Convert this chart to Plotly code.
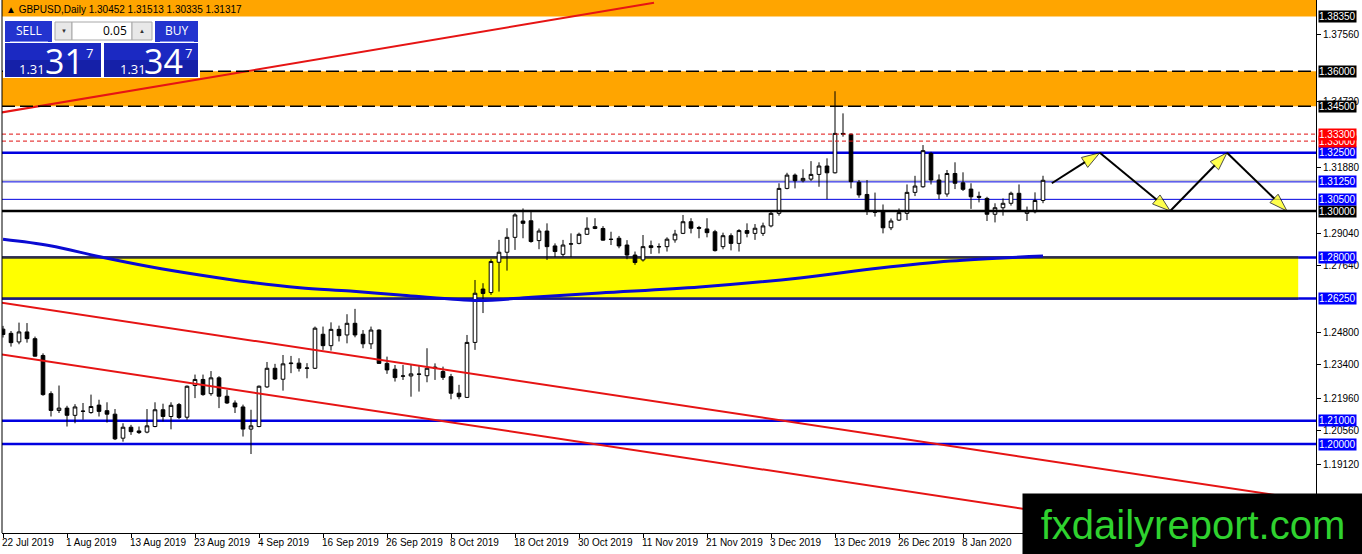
import plotly.graph_objects as go

# GBPUSD daily bars, bar 0 = 22 Jul 2019, last bar = 22 Jan 2020
bar_open = [1.2493, 1.2475, 1.2438, 1.2481, 1.2452, 1.2380, 1.2216, 1.2144, 1.2154, 1.2123,
            1.2140, 1.2135, 1.2167, 1.2143, 1.2128, 1.2025, 1.2072, 1.2056, 1.2051, 1.2075,
            1.2147, 1.2118, 1.2169, 1.2115, 1.2251, 1.2277, 1.2216, 1.2284, 1.2205, 1.2176,
            1.2159, 1.2064, 1.2075, 1.2245, 1.2325, 1.2278, 1.2345, 1.2347, 1.2325, 1.2325,
            1.2471, 1.2422, 1.2492, 1.2468, 1.2518, 1.2471, 1.2430, 1.2489, 1.2346, 1.2321,
            1.2291, 1.2292, 1.2299, 1.2293, 1.2330, 1.2311, 1.2289, 1.2218, 1.2200, 1.2436,
            1.2665, 1.2650, 1.2780, 1.2823, 1.2887, 1.2957, 1.2958, 1.2873, 1.2914, 1.2850,
            1.2814, 1.2858, 1.2861, 1.2900, 1.2925, 1.2925, 1.2879, 1.2883, 1.2854, 1.2811,
            1.2790, 1.2851, 1.2846, 1.2847, 1.2876, 1.2904, 1.2954, 1.2929, 1.2923, 1.2911,
            1.2847, 1.2894, 1.2861, 1.2916, 1.2904, 1.2904, 1.2936, 1.2990, 1.3097, 1.3154,
            1.3130, 1.3137, 1.3157, 1.3193, 1.3164, 1.3333, 1.3329, 1.3123, 1.3071, 1.2998,
            1.3000, 1.2928, 1.2961, 1.2990, 1.3080, 1.3104, 1.3247, 1.3133, 1.3073, 1.3161,
            1.3121, 1.3094, 1.3063, 1.3054, 1.2986, 1.3014, 1.3033, 1.3076, 1.2990, 1.2997,
            1.30452]
bar_high = [1.2507, 1.2485, 1.2521, 1.2519, 1.2461, 1.2389, 1.2226, 1.2251, 1.2164, 1.2171,
            1.2176, 1.2212, 1.2190, 1.2179, 1.2150, 1.2089, 1.2082, 1.2075, 1.2150, 1.2179,
            1.2173, 1.2179, 1.2176, 1.2251, 1.2298, 1.2298, 1.2313, 1.2291, 1.2233, 1.2187,
            1.2169, 1.2147, 1.2251, 1.2352, 1.2344, 1.2382, 1.2378, 1.2368, 1.2347, 1.2504,
            1.2504, 1.2522, 1.2508, 1.2557, 1.2580, 1.2489, 1.2504, 1.2492, 1.2375, 1.2339,
            1.2339, 1.2339, 1.2339, 1.2411, 1.2346, 1.2332, 1.2301, 1.2254, 1.2468, 1.2704,
            1.2690, 1.2793, 1.2876, 1.2926, 1.2990, 1.3011, 1.2997, 1.2925, 1.2947, 1.2861,
            1.2876, 1.2904, 1.2907, 1.2973, 1.2969, 1.2935, 1.2911, 1.2893, 1.2875, 1.2826,
            1.2897, 1.2873, 1.2861, 1.2887, 1.2919, 1.2983, 1.2969, 1.2936, 1.2969, 1.2919,
            1.2907, 1.2904, 1.2922, 1.2947, 1.2944, 1.2950, 1.3004, 1.3119, 1.3164, 1.3161,
            1.3179, 1.3214, 1.3209, 1.3226, 1.3514, 1.3419, 1.3333, 1.3133, 1.3133, 1.3079,
            1.3028, 1.2968, 1.3011, 1.3114, 1.3151, 1.3283, 1.3254, 1.3157, 1.3176, 1.3209,
            1.3166, 1.3119, 1.3083, 1.3061, 1.3033, 1.3054, 1.3083, 1.3114, 1.3019, 1.3080,
            1.31513]
bar_low = [1.2457, 1.2418, 1.2428, 1.2435, 1.2375, 1.2207, 1.2118, 1.2133, 1.2075, 1.2089,
           1.2104, 1.2130, 1.2118, 1.2092, 1.2017, 1.2010, 1.2039, 1.2043, 1.2046, 1.2072,
           1.2097, 1.2063, 1.2107, 1.2104, 1.2197, 1.2207, 1.2207, 1.2154, 1.2172, 1.2133,
           1.2032, 1.1957, 1.2072, 1.2241, 1.2275, 1.2229, 1.2304, 1.2311, 1.2282, 1.2322,
           1.2404, 1.2401, 1.2440, 1.2432, 1.2458, 1.2411, 1.2408, 1.2344, 1.2301, 1.2268,
           1.2275, 1.2203, 1.2225, 1.2265, 1.2275, 1.2275, 1.2192, 1.2192, 1.2199, 1.2404,
           1.2562, 1.2640, 1.2654, 1.2744, 1.2833, 1.2883, 1.2864, 1.2836, 1.2790, 1.2802,
           1.2804, 1.2802, 1.2857, 1.2897, 1.2922, 1.2873, 1.2854, 1.2840, 1.2793, 1.2769,
           1.2783, 1.2816, 1.2818, 1.2826, 1.2864, 1.2901, 1.2904, 1.2883, 1.2887, 1.2826,
           1.2836, 1.2831, 1.2826, 1.2887, 1.2876, 1.2893, 1.2930, 1.2980, 1.3093, 1.3097,
           1.3123, 1.3129, 1.3104, 1.3051, 1.3161, 1.3319, 1.3097, 1.3057, 1.2983, 1.2976,
           1.2904, 1.2918, 1.2957, 1.2961, 1.3064, 1.3100, 1.3114, 1.3051, 1.3061, 1.3094,
           1.3086, 1.3009, 1.3037, 1.2957, 1.2951, 1.2980, 1.3023, 1.2997, 1.2957, 1.2990,
           1.30335]
bar_close = [1.2470, 1.2435, 1.2481, 1.2452, 1.2377, 1.2212, 1.2144, 1.2154, 1.2123, 1.2159,
             1.2141, 1.2161, 1.2140, 1.2128, 1.2022, 1.2072, 1.2053, 1.2049, 1.2078, 1.2147,
             1.2118, 1.2166, 1.2114, 1.2248, 1.2277, 1.2212, 1.2284, 1.2205, 1.2176, 1.2159,
             1.2064, 1.2078, 1.2248, 1.2325, 1.2279, 1.2344, 1.2347, 1.2325, 1.2326, 1.2497,
             1.2422, 1.2492, 1.2465, 1.2518, 1.2468, 1.2430, 1.2489, 1.2346, 1.2318, 1.2285,
             1.2292, 1.2301, 1.2300, 1.2325, 1.2325, 1.2286, 1.2218, 1.2203, 1.2436, 1.2647,
             1.2646, 1.2783, 1.2823, 1.2887, 1.2983, 1.2947, 1.2869, 1.2914, 1.2847, 1.2826,
             1.2854, 1.2859, 1.2900, 1.2926, 1.2933, 1.2875, 1.2878, 1.2850, 1.2811, 1.2779,
             1.2847, 1.2843, 1.2847, 1.2879, 1.2901, 1.2954, 1.2926, 1.2926, 1.2907, 1.2830,
             1.2894, 1.2861, 1.2916, 1.2904, 1.2926, 1.2936, 1.2990, 1.3097, 1.3154, 1.3130,
             1.3140, 1.3157, 1.3193, 1.3164, 1.3333, 1.3330, 1.3126, 1.3069, 1.3000, 1.2995,
             1.2928, 1.2957, 1.2993, 1.3080, 1.3107, 1.3259, 1.3133, 1.3073, 1.3161, 1.3119,
             1.3093, 1.3061, 1.3059, 1.2986, 1.3014, 1.3033, 1.3076, 1.3000, 1.3000, 1.3045,
             1.31317]

date_ticks = [0, 8, 16, 24, 32, 40, 48, 56, 64, 72, 80, 88, 96, 104, 112, 120]
date_labels = ['22 Jul 2019', '1 Aug 2019', '13 Aug 2019', '23 Aug 2019', '4 Sep 2019',
               '16 Sep 2019', '26 Sep 2019', '8 Oct 2019', '18 Oct 2019', '30 Oct 2019',
               '11 Nov 2019', '21 Nov 2019', '3 Dec 2019', '13 Dec 2019', '26 Dec 2019',
               '8 Jan 2020']

price_ticks = [1.3756, 1.3472, 1.3188, 1.2904, 1.2764, 1.2480, 1.2340, 1.2196, 1.2056,
               1.1912, 1.1768]

# horizontal levels
black_levels = [1.3835, 1.36, 1.345, 1.30]
red_levels = [1.333, 1.33]
blue_levels = [1.325, 1.3125, 1.305, 1.28, 1.2625, 1.21, 1.20]
supply_zone = [1.345, 1.36]
support_zone = [1.2625, 1.28]

# moving average (read at a few bars)
ma_bars = [0, 5.9, 12.1, 18.4, 24.6, 30.9, 37.1, 43.4, 49.6, 55.9, 59.6, 66.1, 74.6, 87.1,
           99.6, 109.6, 118.4, 130]
ma_values = [1.28785, 1.28511, 1.28039, 1.27609, 1.27253, 1.26940, 1.26708, 1.26567,
             1.26395, 1.26223, 1.26159, 1.26296, 1.26481, 1.26738, 1.27124, 1.27554,
             1.27854, 1.28069]

# trend lines
rise_bars = [-0.375, 81.375]
rise_prices = [1.34219, 1.38940]
chan_top_bars = [-0.375, 164.125]
chan_top_prices = [1.26073, 1.17545]
chan_bot_bars = [-0.375, 164.125]
chan_bot_prices = [1.23850, 1.15322]

# projected path (zig-zag arrows)
path_bars = [131.1, 137.1, 145.9, 153.0, 160.5]
path_prices = [1.3119, 1.3250, 1.3000, 1.3250, 1.3000]

symbol = 'GBPUSD,Daily'
sell_big, buy_big = '31', '34'

Y_TOP, Y_BOT = 1.390558, 1.161803
X_L, X_R = -0.125, 164.125
ZONE_END = 161.9


def pxx(x):
    return (x - 2) / 1314


def pyy(y):
    return (533 - y) / 533


fig = go.Figure()

fig.add_trace(go.Candlestick(
    x=list(range(len(bar_open))), open=bar_open, high=bar_high, low=bar_low, close=bar_close,
    increasing=dict(line=dict(color='black', width=1), fillcolor='white'),
    decreasing=dict(line=dict(color='black', width=1), fillcolor='black'),
    whiskerwidth=0, hoverinfo='skip'))

fig.add_trace(go.Scatter(x=ma_bars, y=ma_values, mode='lines',
                         line=dict(color='#0a0ad2', width=3, shape='spline'), hoverinfo='skip'))

for bx, by in [(rise_bars, rise_prices), (chan_top_bars, chan_top_prices),
               (chan_bot_bars, chan_bot_prices)]:
    fig.add_trace(go.Scatter(x=bx, y=by, mode='lines', line=dict(color='#e61414', width=2),
                             hoverinfo='skip'))

fig.add_trace(go.Scatter(
    x=path_bars, y=path_prices, mode='lines+markers',
    line=dict(color='black', width=2),
    marker=dict(symbol='arrow', size=[0] + [19] * (len(path_bars) - 1), color='#ffff00',
                angleref='previous', line=dict(color='black', width=1)),
    hoverinfo='skip'))

shapes = []
# zones
shapes.append(dict(type='rect', xref='paper', yref='y', x0=0, x1=1, y0=black_levels[0], y1=Y_TOP,
                   fillcolor='#ffa500', line=dict(width=0), layer='below'))
shapes.append(dict(type='rect', xref='paper', yref='y', x0=0, x1=1, y0=supply_zone[0],
                   y1=supply_zone[1], fillcolor='#ffa500', line=dict(width=0), layer='below'))
for p in blue_levels:
    w = 1 if p in (1.3125, 1.305) else 2.5
    shapes.append(dict(type='line', xref='paper', yref='y', x0=0, x1=1, y0=p, y1=p,
                       line=dict(color='#0000e0', width=w), layer='below'))
shapes.append(dict(type='rect', xref='x', yref='y', x0=X_L, x1=ZONE_END, y0=support_zone[0],
                   y1=support_zone[1], fillcolor='#ffff00', line=dict(width=0), layer='below'))
shapes.append(dict(type='line', xref='x', yref='y', x0=X_L, x1=ZONE_END, y0=support_zone[1],
                   y1=support_zone[1], line=dict(color='#333338', width=2.5), layer='below'))
shapes.append(dict(type='line', xref='x', yref='y', x0=X_L, x1=ZONE_END, y0=support_zone[0],
                   y1=support_zone[0], line=dict(color='#1c1c78', width=2.5), layer='below'))
# bid line
shapes.append(dict(type='line', xref='paper', yref='y', x0=0, x1=1, y0=bar_close[-1],
                   y1=bar_close[-1], line=dict(color='#c0c0c0', width=1), layer='below'))
for p in black_levels[1:3]:
    shapes.append(dict(type='line', xref='paper', yref='y', x0=0, x1=1, y0=p, y1=p,
                       line=dict(color='black', width=1.5, dash='13px,5px'), layer='above'))
shapes.append(dict(type='line', xref='paper', yref='y', x0=0, x1=1, y0=black_levels[3],
                   y1=black_levels[3], line=dict(color='black', width=2.5), layer='above'))
for p in red_levels:
    shapes.append(dict(type='line', xref='paper', yref='y', x0=0, x1=1, y0=p, y1=p,
                       line=dict(color='#e01010', width=1, dash='4px,3px'), layer='above'))
# left border
shapes.append(dict(type='line', xref='paper', yref='paper', x0=0, x1=0, y0=0, y1=1,
                   line=dict(color='black', width=1)))


def rect_px(x0, y0, x1, y1, fill, line=None):
    shapes.append(dict(type='rect', xref='paper', yref='paper', x0=pxx(x0), x1=pxx(x1),
                       y0=pyy(y1), y1=pyy(y0), fillcolor=fill,
                       line=dict(width=1 if line else 0, color=line or fill), layer='above'))


# one-click trading panel
rect_px(3, 19, 200, 78, 'white')
rect_px(5, 21, 52, 42, '#2334cf')
rect_px(155, 21, 198, 42, '#2334cf')
rect_px(55, 22, 72, 40, '#e8e8e8', '#a8a8a8')
rect_px(72, 22, 132, 40, 'white', '#a8a8a8')
rect_px(132, 22, 152, 40, '#e8e8e8', '#a8a8a8')
rect_px(5, 43, 101, 77, '#1b29c2')
rect_px(104, 43, 198, 77, '#1b29c2')
rect_px(5, 60, 101, 77, '#1520a8')
rect_px(104, 60, 198, 77, '#1520a8')
rect_px(10, 41, 48, 42, '#7d89ea')
rect_px(160, 41, 194, 42, '#7d89ea')

ann = []
for p, bg in sorted([(p, 'black') for p in black_levels] + [(p, '#ff0000') for p in red_levels]
                    + [(p, '#0000ff') for p in blue_levels]):
    ann.append(dict(xref='paper', yref='y', x=pxx(1318), y=p, xanchor='left', yanchor='middle',
                    text='%.5f' % p, showarrow=False, bgcolor=bg, borderpad=0,
                    font=dict(family='Liberation Sans', size=10, color='white')))

for t, lab in zip(date_ticks, date_labels):
    ann.append(dict(xref='x', yref='paper', x=t, y=0, xanchor='left', yanchor='top',
                    xshift=-3, yshift=-2, text=lab, showarrow=False,
                    font=dict(family='Liberation Sans', size=10, color='black')))

ann.append(dict(xref='paper', yref='paper', x=pxx(4), y=pyy(9.5), xanchor='left',
                yanchor='middle', showarrow=False,
                text='\u25b2 %s %.5f %.5f %.5f %.5f' % (symbol, bar_open[-1], bar_high[-1],
                                                        bar_low[-1], bar_close[-1]),
                font=dict(family='Liberation Sans', size=10, color='black')))


def txt(x, y, s, size, color='white', anchor='center', fam='Open Sans'):
    ann.append(dict(xref='paper', yref='paper', x=pxx(x), y=pyy(y), xanchor=anchor,
                    yanchor='middle', text=s, showarrow=False,
                    font=dict(family=fam, size=size, color=color)))


txt(28.5, 31, 'SELL', 12)
txt(176.5, 31, 'BUY', 12)
txt(63.5, 31, '\u25bc', 6, '#333333')
txt(142, 31, '\u25b2', 6, '#333333')
txt(129, 31, '0.05', 12, 'black', 'right')
txt(32, 69, '1.31', 13)
txt(64, 61, sell_big, 34)
txt(89, 53, '7', 13)
txt(133, 69, '1.31', 13)
txt(163, 61, buy_big, 34)
txt(188, 53, '7', 13)

# watermark
ann.append(dict(xref='paper', yref='paper', x=pxx(1022), y=pyy(493), xanchor='left',
                yanchor='top', width=340, height=61, bgcolor='black', borderpad=0,
                text='fxdailyreport.com', showarrow=False, align='center', valign='middle',
                font=dict(family='Liberation Sans', size=40, color='#2fd22f')))

fig.update_layout(
    width=1362, height=554, margin=dict(l=2, r=46, t=0, b=21),
    paper_bgcolor='white', plot_bgcolor='white', showlegend=False, boxgap=0.35,
    font=dict(family='Liberation Sans', size=10, color='black'),
    shapes=shapes, annotations=ann,
    xaxis=dict(range=[X_L, X_R], tickvals=date_ticks, showticklabels=False, ticks='outside',
               ticklen=4, tickcolor='black', showline=True, linecolor='black', linewidth=1,
               showgrid=False, zeroline=False, rangeslider=dict(visible=False), fixedrange=True),
    yaxis=dict(range=[Y_BOT, Y_TOP], side='right', tickvals=price_ticks,
               ticktext=['%.5f' % v for v in price_ticks], ticks='outside', ticklen=4,
               tickcolor='black', showline=True, linecolor='black', linewidth=1,
               showgrid=False, zeroline=False, fixedrange=True),
)

# page body has a default 8px margin; drop it so the figure sits at the window corner
fig.write_html("out.html", config={'displayModeBar': False},
               post_script="document.body.style.margin='0';")
